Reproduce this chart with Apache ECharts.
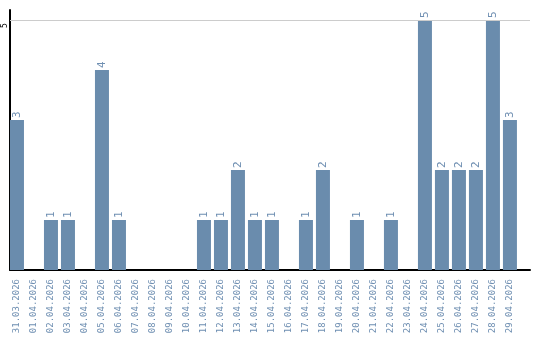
<!DOCTYPE html>
<html><head><meta charset="utf-8">
<script src="https://cdn.jsdelivr.net/npm/echarts@6/dist/echarts.min.js"></script>
<style>html,body{margin:0;padding:0;background:#fff}#c{width:540px;height:340px}</style>
</head><body><div id="c"></div>
<script>
const categories = ["31.03.2026","01.04.2026","02.04.2026","03.04.2026","04.04.2026","05.04.2026","06.04.2026","07.04.2026","08.04.2026","09.04.2026","10.04.2026","11.04.2026","12.04.2026","13.04.2026","14.04.2026","15.04.2026","16.04.2026","17.04.2026","18.04.2026","19.04.2026","20.04.2026","21.04.2026","22.04.2026","23.04.2026","24.04.2026","25.04.2026","26.04.2026","27.04.2026","28.04.2026","29.04.2026"];
const values = [3,0,1,1,0,4,1,0,0,0,0,1,1,2,1,1,0,1,2,0,1,0,1,0,5,2,2,2,5,3];
const yTicks = [5];

const barColor = '#6a8cad';
const textColor = '#6f8fb2';
const chart = echarts.init(document.getElementById('c'), null, {renderer:'canvas'});
const idx = categories.map((c,i)=>i);
chart.setOption({
  animation:false,
  grid:{left:10, right:10, top:10, bottom:70, containLabel:false},
  xAxis:{
    type:'value', min:-0.41, max:30.18,
    axisLine:{show:true, onZero:false, lineStyle:{color:'#000', width:2}},
    axisTick:{show:false},
    splitLine:{show:false},
    axisLabel:{
      customValues: idx,
      rotate:90, margin:9,
      formatter:(v)=>categories[Math.round(v)] || '',
      color:textColor, fontFamily:'DejaVu Sans Mono', fontSize:9
    }
  },
  yAxis:{
    type:'value', min:0, max:5.2,
    axisLine:{show:true, onZero:false, lineStyle:{color:'#000', width:2}},
    axisTick:{show:false},
    splitLine:{show:false},
    axisLabel:{customValues:yTicks, rotate:90, margin:1, align:'center', padding:[0,11,0,0], color:'#000', fontFamily:'DejaVu Sans Mono', fontSize:8}
  },
  series:[{
    type:'bar', barWidth:14,
    data: values.map((v,i)=>v>0?[i,v]:[i,null]),
    itemStyle:{color:barColor},
    label:{show:true, position:'top', rotate:90, align:'left', verticalAlign:'middle', distance:2,
      color:textColor, fontFamily:'DejaVu Sans Mono', fontSize:11,
      formatter:(p)=>String(p.value[1])},
    markLine:{silent:true, symbol:'none', label:{show:false},
      lineStyle:{color:'#cccccc', type:'solid', width:1},
      data:[{yAxis:5}]}
  }]
});
</script></body></html>
